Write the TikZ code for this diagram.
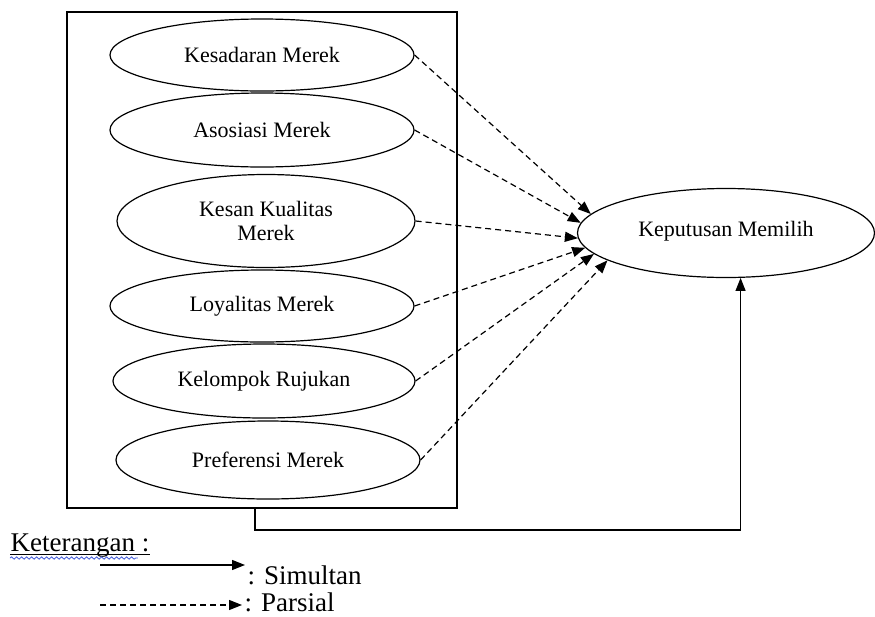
\documentclass[tikz,border=0pt]{standalone}
\usepackage{fontspec}
\setmainfont{Liberation Serif}
\usetikzlibrary{positioning}
\usetikzlibrary{shapes.geometric}
\usetikzlibrary{arrows.meta}
\usetikzlibrary{decorations.pathmorphing}
\definecolor{spellColor}{rgb}{0.25,0.35,0.85}

\begin{document}
\begin{tikzpicture}[x=0.5pt,y=-0.5pt,line width=0.6pt,font=\fontsize{11}{12}\selectfont]

          \tikzstyle{var} = [draw, ellipse, inner sep=0pt, align=center];
          \tikzstyle{simultan} = [-{Triangle[length=6.5pt,width=5pt]}];
          \tikzstyle{parsial} = [-{Triangle[length=6.5pt,width=5pt]}, dash pattern=on 3pt off 2pt];
          \tikzstyle{legend} = [anchor=base west, inner sep=0pt, font=\fontsize{13.5}{15}\selectfont];

          \useasboundingbox (0,0) rectangle (875,617);

          % variabel bebas
          \node[var, minimum width=152pt, minimum height=36pt] (kesadaran) at (262,55) {Kesadaran Merek};
          \node[var, minimum width=152pt, minimum height=37pt] (asosiasi) at (262,130) {Asosiasi Merek};
          \node[var, minimum width=149pt, minimum height=46.5pt] (kesan) at (266,221) {Kesan Kualitas\\Merek};
          \node[var, minimum width=152pt, minimum height=36pt] (loyalitas) at (262,306) {Loyalitas Merek};
          \node[var, minimum width=151pt, minimum height=37pt] (kelompok) at (264,381) {Kelompok Rujukan};
          \node[var, minimum width=152pt, minimum height=39pt] (preferensi) at (268,460) {Preferensi Merek};
          \node[draw, rectangle, minimum width=195pt, minimum height=248pt, inner sep=0pt] (box) at (262,260) {};

          % variabel terikat
          \node[var, minimum width=148.5pt, minimum height=44.5pt] (keputusan) at (726,233) {\raisebox{4pt}{Keputusan Memilih}};

          \draw[parsial] (kesadaran.east) -- (keputusan.172);
          \draw[parsial] (asosiasi.east) -- (keputusan.176);
          \draw[parsial] (kesan.east) -- (keputusan.182);
          \draw[parsial] (loyalitas.east) -- (keputusan.186);
          \draw[parsial] (kelompok.east) -- (keputusan.189);
          \draw[parsial] (preferensi.east) -- (keputusan.193);

          \coordinate (boxout) at (255,508);
          \coordinate (bend) at (255,530);
          \draw[simultan] (boxout) -- (bend) -| (keputusan.-72);

          % keterangan
          \node[legend] (ket) at (10,551) {Keterangan :};
          \draw[line width=0.5pt] ([yshift=-1.5pt]ket.base west) -- ([yshift=-1.5pt]ket.base east);
          \draw[spellColor, line width=0.4pt, decorate, decoration={snake, amplitude=0.6pt, segment length=2.5pt}]
            ([yshift=-3.5pt]ket.base west) -- ([yshift=-3.5pt,xshift=-6pt]ket.base east);
          \coordinate (simA) at (100,565);
          \coordinate (simB) at (245,565);
          \draw[simultan] (simA) -- (simB);
          \node[legend] (simtext) at (247,584) {: Simultan};
          \coordinate (parA) at (100,605);
          \coordinate (parB) at (242,605);
          \draw[parsial] (parA) -- (parB);
          \node[legend] (partext) at (244,611) {: Parsial};
        \end{tikzpicture}
\end{document}
